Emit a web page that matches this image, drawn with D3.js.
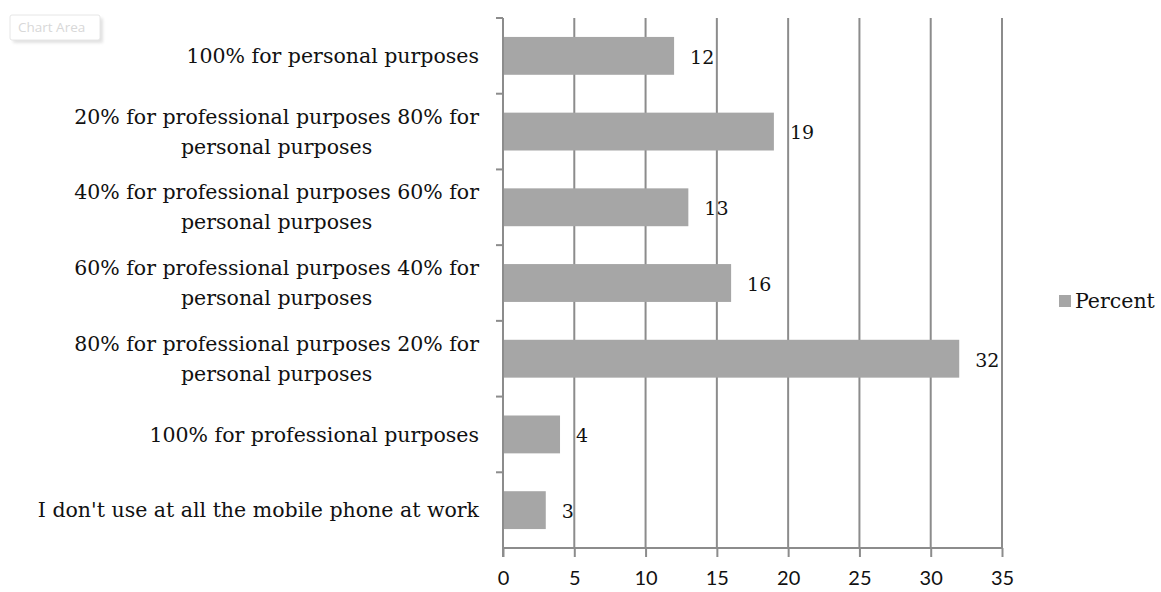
<!DOCTYPE html>
<html>
<head>
<meta charset="utf-8">
<script src="https://cdn.jsdelivr.net/npm/d3@7"></script>
<style>
  html, body { margin: 0; padding: 0; background: #fff; }
  svg { display: block; }
</style>
</head>
<body>
<svg id="chart" width="1161" height="592"></svg>
<script>
// Category labels (top to bottom), each split into its display lines
const categories = [
  ["100% for personal purposes"],
  ["20% for professional purposes 80% for", "personal purposes"],
  ["40% for professional purposes 60% for", "personal purposes"],
  ["60% for professional purposes 40% for", "personal purposes"],
  ["80% for professional purposes 20% for", "personal purposes"],
  ["100% for professional purposes"],
  ["I don't use at all the mobile phone at work"]
];
const percentValues = [12, 19, 13, 16, 32, 4, 3];
const xTicks = [0, 5, 10, 15, 20, 25, 30, 35];
const seriesName = "Percent";

const serif = "'DejaVu Serif', serif";
const serifSize = 20.5;
const sans = "Lato, 'Open Sans', sans-serif";
const gridColor = "#8c8c8c";
const barColor = "#a6a6a6";

const svg = d3.select("#chart");
const plot = { left: 503, right: 1002, top: 18, bottom: 548 };

const x = d3.scaleLinear().domain([0, 35]).range([plot.left, plot.right]);
const keys = categories.map((c, i) => i);
const y = d3.scaleBand().domain(keys).range([plot.top, plot.bottom]).paddingInner(0.5).paddingOuter(0.25);
const yEdges = d3.scaleBand().domain(keys).range([plot.top, plot.bottom]);

// Vertical gridlines
svg.append("g")
  .selectAll("line")
  .data(xTicks.slice(1))
  .join("line")
  .attr("x1", d => x(d)).attr("x2", d => x(d))
  .attr("y1", plot.top).attr("y2", plot.bottom)
  .attr("stroke", gridColor).attr("stroke-width", 2);

// Bars
svg.append("g")
  .selectAll("rect")
  .data(percentValues)
  .join("rect")
  .attr("x", x(0))
  .attr("y", (d, i) => y(i))
  .attr("width", d => x(d) - x(0))
  .attr("height", y.bandwidth())
  .attr("fill", barColor);

// X axis along the bottom
const xAxis = svg.append("g")
  .attr("transform", `translate(0,${plot.bottom})`)
  .call(d3.axisBottom(x).tickValues(xTicks).tickSize(9).tickPadding(14));
xAxis.select(".domain").attr("stroke", gridColor).attr("stroke-width", 2)
  .attr("d", `M${plot.left},0H${plot.right}`);
xAxis.selectAll(".tick line").attr("stroke", gridColor).attr("stroke-width", 2);
xAxis.selectAll(".tick text")
  .attr("font-family", sans).attr("font-size", 20).attr("fill", "#111");

// Y axis line with category-boundary ticks
const yAxis = svg.append("g");
yAxis.append("line")
  .attr("x1", plot.left).attr("x2", plot.left)
  .attr("y1", plot.top).attr("y2", plot.bottom + 9)
  .attr("stroke", gridColor).attr("stroke-width", 2);
yAxis.selectAll("line.edge")
  .data(keys)
  .join("line")
  .attr("class", "edge")
  .attr("x1", plot.left - 7).attr("x2", plot.left)
  .attr("y1", d => yEdges(d)).attr("y2", d => yEdges(d))
  .attr("stroke", gridColor).attr("stroke-width", 2);

// Category labels: right-aligned blocks, lines centred within the block
const labelRight = 479;
const lineH = 30;
categories.forEach((lines, i) => {
  const cy = y(i) + y.bandwidth() / 2;
  const g = svg.append("g");
  const texts = lines.map((ln, j) => g.append("text")
    .text(ln)
    .attr("font-family", serif).attr("font-size", serifSize).attr("fill", "#111")
    .attr("text-anchor", "middle")
    .attr("y", cy + (j - (lines.length - 1) / 2) * lineH)
    .attr("dy", "0.35em"));
  const w = d3.max(texts, t => t.node().getComputedTextLength());
  texts.forEach(t => t.attr("x", labelRight - w / 2));
});

// Value labels beside each bar
svg.append("g")
  .selectAll("text")
  .data(percentValues)
  .join("text")
  .attr("x", d => x(d) + 16)
  .attr("y", (d, i) => y(i) + y.bandwidth() / 2 + 1)
  .attr("dy", "0.36em")
  .attr("font-family", serif).attr("font-size", 19).attr("fill", "#111")
  .text(d => d);

// Legend
const legend = svg.append("g").attr("transform", "translate(1059,295)");
legend.append("rect").attr("width", 12).attr("height", 12).attr("fill", barColor);
legend.append("text")
  .attr("x", 16).attr("y", 6).attr("dy", "0.35em")
  .attr("font-family", serif).attr("font-size", serifSize).attr("fill", "#111")
  .text(seriesName);

// "Chart Area" hover tag in the corner
const tag = svg.append("g").attr("transform", "translate(10,15)");
tag.append("rect").attr("x", 3).attr("y", 3).attr("width", 90).attr("height", 25)
  .attr("rx", 2).attr("fill", "#cfcfcf").attr("opacity", 0.6)
  .style("filter", "blur(1.5px)");
tag.append("rect").attr("width", 90).attr("height", 25).attr("rx", 2)
  .attr("fill", "#fff").attr("stroke", "#e6e6e6");
tag.append("text").attr("x", 8).attr("y", 12.5).attr("dy", "0.35em")
  .attr("font-family", "'Open Sans', sans-serif").attr("font-size", 13.5)
  .attr("fill", "#d8d8d8").text("Chart Area");
</script>
</body>
</html>
